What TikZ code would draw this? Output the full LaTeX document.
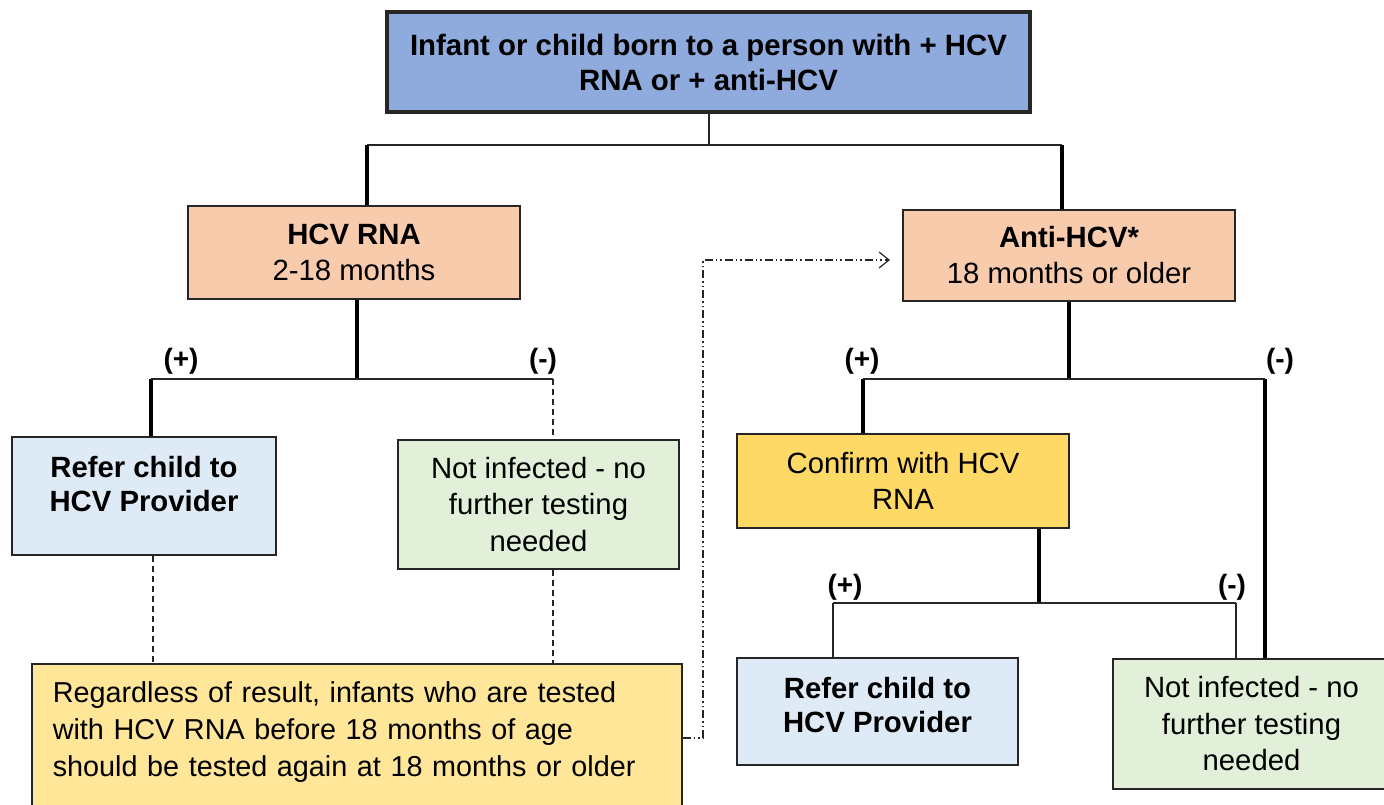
\documentclass[tikz,border=0pt]{standalone}
\usepackage{fontspec}
\setmainfont{Liberation Sans}
\usetikzlibrary{arrows.meta}
\definecolor{topc}{HTML}{8FAADC}
\definecolor{peach}{HTML}{F8CBAD}
\definecolor{lblue}{HTML}{DEEBF7}
\definecolor{lgreen}{HTML}{E2F0D9}
\definecolor{gold}{HTML}{FFD966}
\definecolor{lyel}{HTML}{FFE699}
\definecolor{edge}{HTML}{262626}
\tikzset{
  box/.style={draw=edge, line width=1.6pt, align=center, inner sep=0pt,
    font=\fontsize{29.3}{36}\selectfont},
  thickln/.style={line width=3.8pt, black},
  thinln/.style={line width=1.5pt, edge},
  dashln/.style={line width=1.2pt, edge, dash pattern=on 6pt off 4pt},
  dashdot/.style={line width=1.1pt, edge, dash pattern=on 8pt off 3pt on 1.5pt off 3pt on 1.5pt off 3pt},
  sign/.style={font=\fontsize{28}{30}\selectfont\bfseries, inner sep=0pt}
}
\begin{document}
\begin{tikzpicture}[x=1pt,y=-1pt]
\useasboundingbox (0,0) rectangle (1384,804);
% nodes
\node[box, fill=topc, line width=4pt, minimum width=643pt, minimum height=100pt, font=\fontsize{29.4}{35}\selectfont\bfseries] (top) at (708.5,62) {Infant or child born to a person with + HCV\\RNA or + anti-HCV};
\node[box, fill=peach, minimum width=332pt, minimum height=93pt] (rna) at (354,252.5) {\textbf{HCV RNA}\\2-18 months};
\node[box, fill=peach, minimum width=332pt, minimum height=91pt] (anti) at (1069,255.5) {\textbf{Anti-HCV*}\\18 months or older};
\node[box, fill=lblue, minimum width=264pt, minimum height=118pt, font=\fontsize{29.3}{34}\selectfont\bfseries, text depth=25pt] (refL) at (144,496) {Refer child to\\HCV Provider};
\node[box, fill=lgreen, minimum width=281pt, minimum height=129pt, font=\fontsize{29.3}{36.5}\selectfont] (notL) at (538.5,504.5) {Not infected - no\\further testing\\needed};
\node[box, fill=lyel, minimum width=649pt, anchor=north west, align=left, text width=608pt, inner xsep=21pt, inner ysep=18pt, font=\fontsize{28.8}{37}\selectfont] (reg) at (31,663) {Regardless of result, infants who are tested\\with HCV RNA before 18 months of age\\should be tested again at 18 months or older\\\rule{0pt}{45pt}};
\node[box, fill=gold, minimum width=332pt, minimum height=94pt] (conf) at (903,481) {Confirm with HCV\\RNA};
\node[box, fill=lblue, minimum width=281pt, minimum height=107pt, font=\fontsize{29.3}{34}\selectfont\bfseries, text depth=13pt] (refR) at (877.5,711.5) {Refer child to\\HCV Provider};
\node[box, fill=lgreen, minimum width=277pt, minimum height=130pt, font=\fontsize{29.3}{36.5}\selectfont] (notR) at (1251.5,724) {Not infected - no\\further testing\\needed};
% junction coordinates
\coordinate (j0) at (709,145);
\coordinate (jL) at (367,145);
\coordinate (jR) at (1062,145);
\coordinate (k0) at (357,379);
\coordinate (kL) at (151,379);
\coordinate (kR) at (553,379);
\coordinate (m0) at (1069,379);
\coordinate (mL) at (863,379);
\coordinate (mR) at (1265,379);
\coordinate (n0) at (1039,603);
\coordinate (nL) at (833,603);
\coordinate (nR) at (1236,603);
\coordinate (dA) at (703,738);
\coordinate (dB) at (703,260);
\coordinate (dC) at (890,260);
% top connectors
\draw[thinln] (top.south -| j0) -- (j0);
\draw[thinln] (jL) -- (jR);
\draw[thickln] (jL) -- (jL |- rna.north);
\draw[thickln] (jR) -- (jR |- anti.north);
% HCV RNA branch
\draw[thickln] (rna.south -| k0) -- (k0);
\draw[thinln] (kL) -- (kR);
\draw[thickln] (kL) -- (kL |- refL.north);
\draw[dashln] (kR) -- (kR |- notL.north);
\node[sign] (pL) at (181,361) {(+)};
\node[sign] (mLab) at (543,361) {(-)};
\draw[dashln] (refL.south -| 153,0) -- (153,0 |- reg.north);
\draw[dashln] (notL.south -| kR) -- (kR |- reg.north);
% dash-dot arrow
\draw[dashdot, -{Straight Barb[length=10pt,width=16pt,line width=1.2pt]}] (reg.east |- dA) -- (dA) -- (dB) -- (dC);
% Anti-HCV branch
\draw[thickln] (anti.south -| m0) -- (m0);
\draw[thinln] (mL) -- (mR);
\draw[thickln] (mL) -- (mL |- conf.north);
\draw[thickln] (mR) -- (mR |- notR.north);
\node[sign] (pR) at (862,361) {(+)};
\node[sign] (mRlab) at (1280,361) {(-)};
% Confirm branch
\draw[thickln] (conf.south -| n0) -- (n0);
\draw[thinln] (nL) -- (nR);
\draw[thinln] (nL) -- (nL |- refR.north);
\draw[thinln] (nR) -- (nR |- notR.north);
\node[sign] (pC) at (845,587) {(+)};
\node[sign] (mC) at (1232,587) {(-)};
\end{tikzpicture}
\end{document}
